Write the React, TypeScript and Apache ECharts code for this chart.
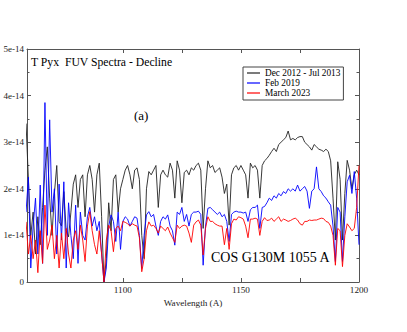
import React, { useEffect, useRef } from "react";
import * as echarts from "echarts";

// Wavelength grid (Angstrom), 1 A steps starting here
const START_WAVELENGTH = 1059;

// Flux values in units of 1e-14
const blackFlux = [
  3.4, 2.2, 1.0, 1.5, 0.6, 1.4, 0.8, 1.6, 2.4, 2.9,
  1.8, 1.0, 1.9, 2.5, 1.3, 1.2, 1.94, 1.1, 0.97, 1.5,
  2.1, 2.3, 1.6, 2.2, 2.3, 1.4, 2.3, 2.5, 2.2, 1.5,
  2.3, 2.55, 1.4, 0.0, 0.5, 1.7, 1.1, 2.2, 2.3, 1.5,
  2.0, 2.2, 2.4, 2.5, 2.3, 2.0, 2.4, 2.45, 2.2, 1.0,
  0.5, 2.0, 2.37, 2.3, 2.4, 2.5, 1.6, 2.3, 2.4, 2.3,
  2.25, 2.55, 2.4, 1.8, 2.6, 2.4, 1.7, 2.35, 2.4, 2.3,
  2.45, 2.4, 2.5, 2.55, 2.4, 1.15, 2.0, 2.6, 2.45, 2.5,
  2.35, 2.4, 2.45, 2.25, 1.9, 2.1, 1.22, 2.3, 2.45, 2.5,
  2.4, 2.5, 2.4, 2.3, 1.8, 2.55, 2.45, 2.5, 2.4, 1.8,
  2.5, 2.6, 2.65, 2.72, 2.8, 2.87, 2.8, 2.95, 3.0, 3.05,
  3.1, 3.24, 3.05, 3.08, 3.05, 3.1, 3.12, 3.12, 3.0, 2.95,
  2.9, 2.83, 2.95, 2.9, 2.85, 2.83, 2.8, 2.85, 2.8, 2.6,
  1.8, 0.9, 2.58, 2.2, 0.9, 1.9, 2.61, 2.4, 2.0, 2.3,
  2.4, 2.3,
];

const blueFlux = [
  1.5, 2.25, 0.3, 1.2, 1.8, 0.6, 2.08, 0.4, 3.85, 1.0,
  3.48, 1.5, 2.0, 0.6, 2.1, 0.9, 2.15, 0.3, 1.7, 1.0,
  0.5, 1.65, 0.4, 1.5, 1.0, 0.9, 1.4, 1.6, 1.2, 1.4,
  1.1, 1.3, 0.6, 0.0, 0.3, 1.2, 1.44, 1.3, 0.87, 1.5,
  0.7, 1.3, 1.4, 1.35, 1.2, 1.3, 1.4, 1.37, 1.0, 0.29,
  1.0, 1.44, 1.51, 1.4, 1.45, 1.2, 1.0, 1.3, 1.4, 1.35,
  1.44, 1.2, 1.1, 0.79, 1.5, 1.45, 1.6, 1.3, 1.45, 1.2,
  1.45, 1.5, 1.5, 1.52, 1.45, 0.36, 1.2, 1.58, 1.6, 1.55,
  1.5, 1.45, 1.5, 1.4, 1.45, 1.3, 0.87, 1.45, 1.5, 1.52,
  1.5, 1.5, 1.48, 1.5, 1.3, 1.55, 1.6, 1.6, 1.65, 1.15,
  1.6, 1.62, 1.7, 1.8, 1.75, 1.85, 1.8, 1.9, 1.85, 1.94,
  1.9, 2.0, 1.95, 2.0, 1.95, 2.08, 1.95, 2.0, 2.05, 1.95,
  1.58, 1.95, 2.0, 2.47, 2.0, 1.94, 1.85, 1.8, 1.72, 1.65,
  1.2, 0.44, 1.6, 1.5, 0.44, 1.4, 2.15, 2.29, 1.9, 2.37,
  1.8, 0.8,
];

const redFlux = [
  1.29, 0.6, 1.0, 0.5, 0.9, 0.2, 1.1, 0.4, 1.65, 0.7,
  0.9, 1.22, 0.5, 1.0, 0.3, 1.05, 0.5, 1.15, 0.6, 0.3,
  0.9, 1.1, 0.7, 1.22, 0.9, 0.44, 1.2, 1.51, 1.1, 0.8,
  0.6, 1.1, 0.6, 0.0, 0.9, 1.22, 1.1, 0.65, 1.15, 1.2,
  1.1, 1.3, 1.28, 1.25, 1.2, 1.25, 1.22, 1.2, 0.95, 0.22,
  0.5, 1.1, 1.29, 1.2, 1.22, 1.15, 1.05, 1.2, 1.15, 1.1,
  1.18, 1.05, 0.95, 0.85, 1.22, 1.15, 1.2, 1.22, 1.2, 1.05,
  0.85, 1.22, 1.29, 1.33, 1.22, 0.58, 1.15, 1.4, 1.3, 1.3,
  1.25, 1.22, 1.2, 1.2, 0.8, 1.15, 0.7, 1.25, 1.35, 1.33,
  1.4, 1.38, 1.35, 1.2, 0.95, 1.35, 1.35, 1.37, 1.35, 1.0,
  1.3, 1.38, 1.32, 1.33, 1.37, 1.3, 1.35, 1.4, 1.3, 1.35,
  1.33, 1.3, 1.32, 1.35, 1.37, 1.33, 1.25, 1.22, 1.3, 1.3,
  1.33, 1.32, 1.33, 1.33, 1.35, 1.37, 1.36, 1.3, 1.28, 1.2,
  1.0, 0.36, 1.15, 1.1, 0.33, 1.0, 1.25, 1.18, 1.1, 1.15,
  1.6, 2.5,
];

const seriesNames = ["Dec 2012 - Jul 2013", "Feb 2019", "March 2023"];
const seriesColors = ["#222222", "#0000ff", "#ff0000"];
const xLabelValues = [1100, 1150, 1200];
const xTickValues = [1100, 1125, 1150, 1175, 1200];
const X_MIN = 1059.4;
const X_MAX = 1200;
const Y_MAX = 5;

const titleText = "T Pyx  FUV Spectra - Decline";
const panelText = "(a)";
const instrumentText = "COS G130M 1055 A";
const xAxisName = "Wavelength (A)";

const SERIF = "'Liberation Serif', 'Times New Roman', serif";
const AXIS_COLOR = "#555555";

function toPairs(values: number[]) {
  return values.map((v, i) => [START_WAVELENGTH + i, v]);
}

export default function App() {
  const ref = useRef<HTMLDivElement>(null);

  useEffect(() => {
    if (!ref.current) return;
    const chart = echarts.init(ref.current, undefined, { renderer: "svg" });
    const fluxSets = [blackFlux, blueFlux, redFlux];

    const xBase = {
      type: "value" as const,
      min: X_MIN,
      max: X_MAX,
      splitLine: { show: false },
      axisLine: { show: true, onZero: false, lineStyle: { color: AXIS_COLOR, width: 1 } },
    };
    const yBase = {
      type: "value" as const,
      min: 0,
      max: Y_MAX,
      interval: 1,
      splitLine: { show: false },
      axisLine: { show: true, onZero: false, lineStyle: { color: AXIS_COLOR, width: 1 } },
      axisTick: { show: true, inside: true, length: 4, lineStyle: { color: AXIS_COLOR } },
      minorTick: { show: true, splitNumber: 2, length: 2.5, lineStyle: { color: AXIS_COLOR } },
    };

    chart.setOption({
      animation: false,
      backgroundColor: "#ffffff",
      grid: { left: 27, right: 48, top: 49, bottom: 50, containLabel: false },
      legend: {
        orient: "vertical",
        left: 243,
        top: 67,
        data: seriesNames,
        icon: "rect",
        itemWidth: 13,
        itemHeight: 1.2,
        itemGap: 0,
        itemTextGap: 6,
        padding: [1, 3, 2, 4],
        borderColor: "#444444",
        borderWidth: 1,
        selectedMode: false,
        textStyle: { fontFamily: SERIF, fontSize: 9.3, lineHeight: 10, color: "#000" },
      },
      xAxis: [
        {
          ...xBase,
          position: "bottom",
          name: xAxisName,
          nameLocation: "middle",
          nameGap: 12,
          nameTextStyle: { fontFamily: SERIF, fontSize: 9.2, color: "#222" },
          axisTick: {
            show: true,
            inside: true,
            length: 4,
            customValues: xTickValues,
            lineStyle: { color: AXIS_COLOR },
          },
          axisLabel: {
            show: true,
            customValues: xLabelValues,
            margin: 3,
            fontFamily: SERIF,
            fontSize: 9.2,
            color: "#222",
            formatter: (v: number) => String(v),
          },
        },
        {
          ...xBase,
          position: "top",
          axisTick: {
            show: true,
            inside: true,
            length: 4,
            customValues: xTickValues,
            lineStyle: { color: AXIS_COLOR },
          },
          axisLabel: { show: false },
        },
      ],
      yAxis: [
        {
          ...yBase,
          position: "left",
          axisLabel: {
            show: true,
            margin: 3,
            fontFamily: SERIF,
            fontSize: 9,
            color: "#222",
            formatter: (v: number) => (v === 0 ? "0" : `${v}e-14`),
          },
        },
        {
          ...yBase,
          position: "right",
          axisLabel: { show: false },
        },
      ],
      graphic: [
        {
          type: "text",
          left: 31,
          top: 56,
          style: { text: titleText, fontFamily: SERIF, fontSize: 11.7, fill: "#000" },
        },
        {
          type: "text",
          left: 134,
          top: 109,
          style: { text: panelText, fontFamily: SERIF, fontSize: 13, fill: "#000" },
        },
        {
          type: "text",
          left: 211,
          top: 250,
          style: { text: instrumentText, fontFamily: SERIF, fontSize: 14, fill: "#000" },
        },
      ],
      series: seriesNames.map((name, i) => ({
        name,
        type: "line",
        xAxisIndex: 0,
        yAxisIndex: 0,
        data: toPairs(fluxSets[i]),
        showSymbol: false,
        symbol: "none",
        clip: true,
        color: seriesColors[i],
        lineStyle: { color: seriesColors[i], width: 0.9 },
        z: 2 + i,
      })),
    });

    return () => {
      chart.dispose();
    };
  }, []);

  return (
    <div
      ref={ref}
      style={{ position: "fixed", left: 0, top: 0, width: 407, height: 332, background: "#fff" }}
    />
  );
}
